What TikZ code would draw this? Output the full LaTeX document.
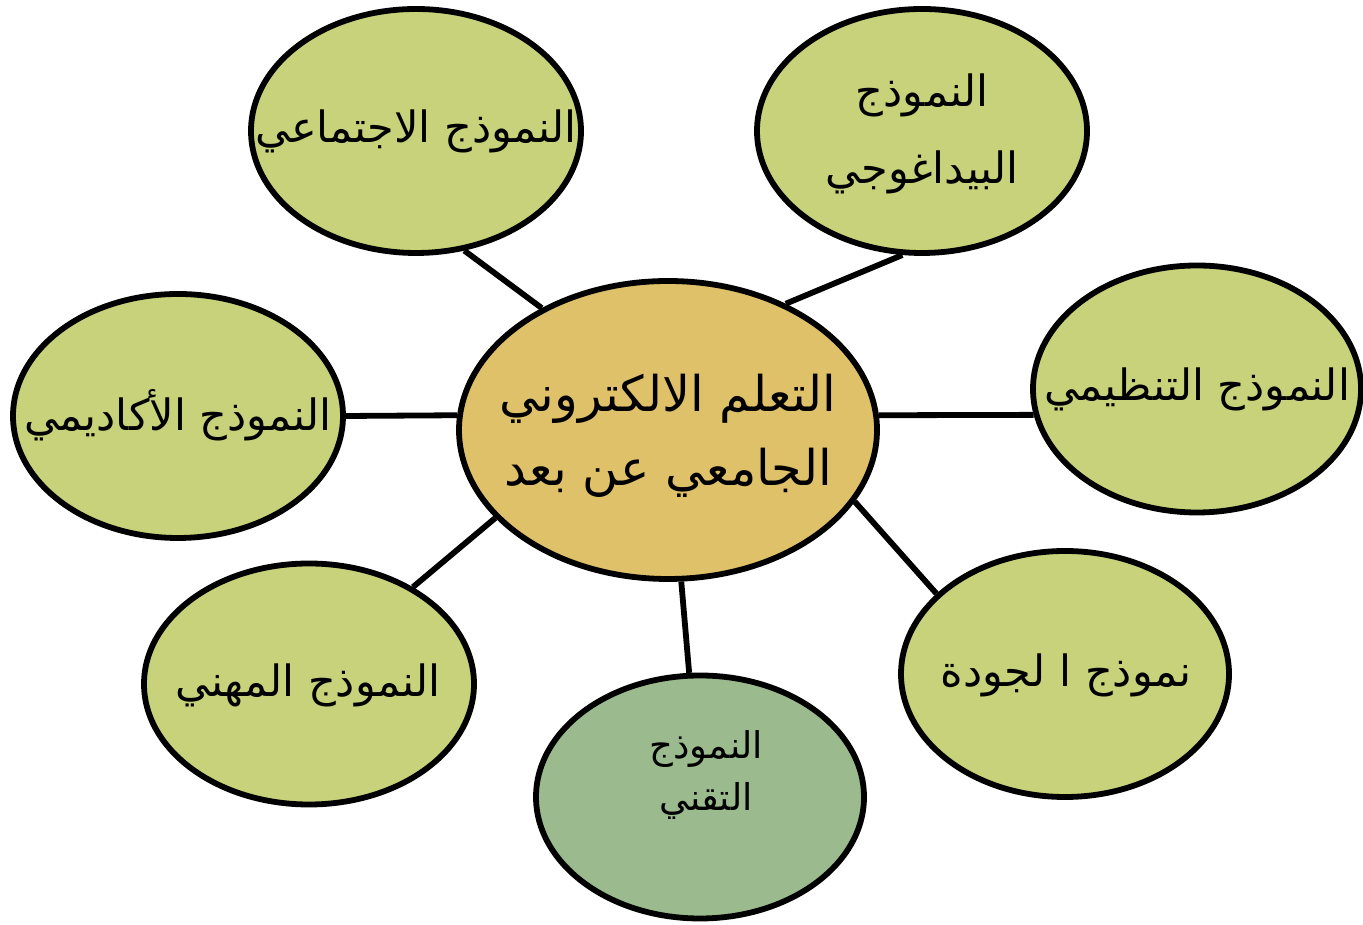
\documentclass[tikz,border=0pt]{standalone}
\usepackage{fontspec}
\usetikzlibrary{shapes.geometric}
\TeXXeTstate=1
\newfontfamily\arabicfont[Script=Arabic]{DejaVu Sans}
\definecolor{olive}{HTML}{C8D27A}
\definecolor{gold}{HTML}{DFC16A}
\definecolor{sage}{HTML}{9BBB8F}

\begin{document}
\begin{tikzpicture}[
  bubble/.style={ellipse,draw=black,line width=3.3pt,fill=olive,inner sep=0pt,minimum width=6.6cm,minimum height=4.88cm},
  spoke/.style={line width=3.3pt},
  caption/.style={font=\arabicfont\fontsize{24.5}{44}\selectfont,align=center,inner sep=0pt}]
\useasboundingbox (0,0) rectangle (27.26,18.48);
\node[bubble,fill=gold,minimum width=8.36cm,minimum height=5.96cm] (ctr) at (13.36,9.88) {};
\node[bubble] (social) at (8.32,15.86) {};
\node[bubble] (peda) at (18.44,15.86) {};
\node[bubble,minimum width=6.56cm,minimum height=4.94cm] (org) at (23.94,10.70) {};
\node[bubble] (acad) at (3.56,10.16) {};
\node[bubble,minimum height=4.82cm] (prof) at (6.18,4.80) {};
\node[bubble,fill=sage,minimum width=6.56cm,minimum height=4.86cm] (tech) at (14.0,2.54) {};
\node[bubble,minimum width=6.56cm,minimum height=4.92cm] (qual) at (21.3,5.0) {};
\draw[spoke] (ctr.136) -- (social.-68);
\draw[spoke] (ctr.47) -- (peda.-99);
\draw[spoke] (ctr.4) -- (org.189);
\draw[spoke] (ctr.176) -- (acad.0);
\draw[spoke] (ctr.207) -- (prof.43);
\draw[spoke] (ctr.-85) -- (tech.95);
\draw[spoke] (ctr.-21) -- (qual.148);
\node[caption,font=\arabicfont\fontsize{28}{42}\selectfont] (ctrtext) at (13.36,9.76) {\beginR التعلم الالكتروني\endR\\\beginR الجامعي عن بعد\endR};
\node[caption] (socialtext) at (8.32,15.86) {\beginR النموذج الاجتماعي\endR};
\node[caption] (pedatext) at (18.44,15.80) {\beginR النموذج\endR\\\beginR البيداغوجي\endR};
\node[caption] (orgtext) at (23.94,10.70) {\beginR النموذج التنظيمي\endR};
\node[caption] (acadtext) at (3.56,10.18) {\beginR النموذج الأكاديمي\endR};
\node[caption] (proftext) at (6.16,4.78) {\beginR النموذج المهني\endR};
\node[caption,font=\arabicfont\fontsize{21}{30}\selectfont] (techtext) at (14.12,2.98) {\beginR النموذج\endR\\\beginR التقني\endR};
\node[caption] (qualtext) at (21.32,4.98) {\beginR نموذج ا لجودة\endR};
\end{tikzpicture}
\end{document}
